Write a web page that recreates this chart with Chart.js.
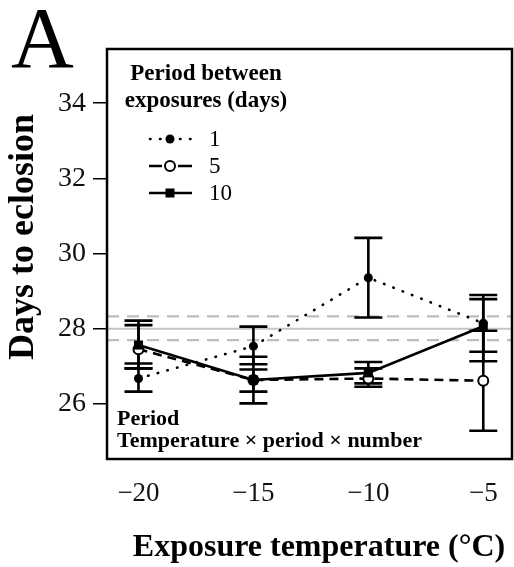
<!DOCTYPE html>
<html>
<head>
    <title>Days to eclosion</title>
    <script src="https://cdn.jsdelivr.net/npm/chart.js"></script>
    <style>
        body { margin: 0; background: #fff; }
    </style>
</head>
<body>
<canvas id="eclosionChart" width="514" height="567"></canvas>
<script>
    // exposure temperatures (x) and tick labels
    var temps = [-20, -15, -10, -5];
    var xTickLabels = ['\u221220', '\u221215', '\u221210', '\u22125'];
    var yTicks = [26, 28, 30, 32, 34];

    // period between exposures = 1 day (dotted, filled circle)
    var period1 = [26.68, 27.54, 29.36, 28.15];
    var period1Lo = [26.33, 27.06, 28.30, 27.39];
    var period1Hi = [27.08, 28.06, 30.42, 28.90];

    // period = 5 days (dashed, open circle)
    var period5 = [27.46, 26.64, 26.68, 26.62];
    var period5Lo = [26.95, 26.02, 26.46, 25.29];
    var period5Hi = [28.10, 27.26, 26.95, 27.95];

    // period = 10 days (solid, filled square)
    var period10 = [27.57, 26.64, 26.83, 28.07];
    var period10Lo = [26.95, 26.33, 26.55, 27.14];
    var period10Hi = [28.22, 26.92, 27.12, 28.79];

    // control mean and its interval (grey lines)
    var controlMean = 28.0;
    var controlLo = 27.7;
    var controlHi = 28.33;

    var xMin = -21.37, xMax = -3.75;
    var yMin = 24.54, yMax = 35.44;

    var serif = '"Liberation Serif", "Times New Roman", serif';

    function pts(ys) {
        return temps.map(function (t, i) { return { x: t, y: ys[i] }; });
    }

    function refLine(v) {
        return [{ x: xMin, y: v }, { x: xMax, y: v }];
    }

    var errorBars = {
        id: 'errorBars',
        beforeDatasetDraw: function (chart, args) {
            var ds = chart.data.datasets[args.index];
            if (!ds.errFirst) return;
            var ctx = chart.ctx, x = chart.scales.x, y = chart.scales.y;
            var sets = [[period1Lo, period1Hi], [period5Lo, period5Hi], [period10Lo, period10Hi]];
            ctx.save();
            ctx.strokeStyle = '#000';
            ctx.lineWidth = 2.6;
            sets.forEach(function (s) {
                temps.forEach(function (t, i) {
                    var px = x.getPixelForValue(t);
                    var lo = y.getPixelForValue(s[0][i]);
                    var hi = y.getPixelForValue(s[1][i]);
                    ctx.beginPath();
                    ctx.moveTo(px, lo);
                    ctx.lineTo(px, hi);
                    ctx.moveTo(px - 14, lo);
                    ctx.lineTo(px + 14, lo);
                    ctx.moveTo(px - 14, hi);
                    ctx.lineTo(px + 14, hi);
                    ctx.stroke();
                });
            });
            ctx.restore();
        }
    };

    var decorations = {
        id: 'decorations',
        afterDraw: function (chart) {
            var ctx = chart.ctx, a = chart.chartArea;
            ctx.save();
            // box
            ctx.strokeStyle = '#000';
            ctx.lineWidth = 2.5;
            ctx.strokeRect(a.left, a.top, a.right - a.left, a.bottom - a.top);

            ctx.fillStyle = '#000';
            // panel letter
            ctx.font = '87px ' + serif;
            ctx.textAlign = 'left';
            ctx.textBaseline = 'alphabetic';
            ctx.fillText('A', 11, 67);

            // axis titles
            ctx.font = 'bold 32px ' + serif;
            ctx.textAlign = 'center';
            ctx.fillText('Exposure temperature (\u00b0C)', 319, 556);

            ctx.save();
            ctx.translate(24, 237);
            ctx.rotate(-Math.PI / 2);
            ctx.font = 'bold 36px ' + serif;
            ctx.textBaseline = 'middle';
            ctx.fillText('Days to eclosion', 0, 0);
            ctx.restore();

            // legend
            ctx.font = 'bold 23px ' + serif;
            ctx.textAlign = 'center';
            ctx.fillText('Period between', 206, 80);
            ctx.fillText('exposures (days)', 206, 107);

            var rows = [139, 166, 193];
            var labels = ['1', '5', '10'];
            ctx.lineWidth = 2.6;
            ctx.lineCap = 'round';
            ctx.setLineDash([0.5, 9.5]);
            ctx.beginPath(); ctx.moveTo(150, rows[0]); ctx.lineTo(192, rows[0]); ctx.stroke();
            ctx.lineCap = 'butt';
            ctx.setLineDash([]);
            ctx.beginPath(); ctx.moveTo(149, rows[1]); ctx.lineTo(162, rows[1]);
            ctx.moveTo(178, rows[1]); ctx.lineTo(192, rows[1]); ctx.stroke();
            ctx.beginPath(); ctx.moveTo(149, rows[2]); ctx.lineTo(192, rows[2]); ctx.stroke();

            ctx.beginPath(); ctx.arc(170, rows[0], 4.5, 0, Math.PI * 2); ctx.fill();
            ctx.fillStyle = '#fff';
            ctx.beginPath(); ctx.arc(170, rows[1], 5, 0, Math.PI * 2); ctx.fill();
            ctx.lineWidth = 2;
            ctx.stroke();
            ctx.fillStyle = '#000';
            ctx.fillRect(165.5, rows[2] - 4.5, 9, 9);

            ctx.font = '23px ' + serif;
            ctx.textAlign = 'left';
            ctx.textBaseline = 'middle';
            labels.forEach(function (l, i) { ctx.fillText(l, 209, rows[i] + 1); });

            // model terms
            ctx.font = 'bold 22px ' + serif;
            ctx.textBaseline = 'alphabetic';
            ctx.fillText('Period', 117, 425);
            ctx.fillText('Temperature \u00d7 period \u00d7 number', 117, 447);
            ctx.restore();
        }
    };

    var ctx = document.getElementById('eclosionChart').getContext('2d');
    var chart = new Chart(ctx, {
        type: 'scatter',
        data: {
            datasets: [{
                label: 'control',
                data: refLine(controlMean),
                showLine: true,
                borderColor: '#c4c4c4',
                borderWidth: 2,
                pointRadius: 0,
                order: 10
            }, {
                label: 'control lo',
                data: refLine(controlLo),
                showLine: true,
                borderColor: '#bdbdbd',
                borderWidth: 2.2,
                borderDash: [12, 8],
                pointRadius: 0,
                order: 10
            }, {
                label: 'control hi',
                data: refLine(controlHi),
                showLine: true,
                borderColor: '#bdbdbd',
                borderWidth: 2.2,
                borderDash: [12, 8],
                pointRadius: 0,
                order: 10
            }, {
                label: '1',
                data: pts(period1),
                showLine: true,
                errFirst: true,
                borderColor: '#000',
                borderWidth: 2.6,
                borderDash: [0.5, 9.5],
                borderCapStyle: 'round',
                pointStyle: 'circle',
                pointRadius: 4.5,
                pointBackgroundColor: '#000',
                pointBorderColor: '#000',
                pointBorderWidth: 0,
                order: 3
            }, {
                label: '5',
                data: pts(period5),
                showLine: true,
                borderColor: '#000',
                borderWidth: 2.6,
                borderDash: [9, 6],
                pointStyle: 'circle',
                pointRadius: 5,
                pointBackgroundColor: '#fff',
                pointBorderColor: '#000',
                pointBorderWidth: 2,
                order: 2
            }, {
                label: '10',
                data: pts(period10),
                showLine: true,
                borderColor: '#000',
                borderWidth: 2.6,
                pointStyle: 'rect',
                pointRadius: 6.4,
                pointBackgroundColor: '#000',
                pointBorderColor: '#000',
                pointBorderWidth: 0,
                order: 1
            }]
        },
        options: {
            responsive: false,
            animation: false,
            devicePixelRatio: 1,
            layout: {
                autoPadding: false,
                padding: { top: 49, right: 2, left: 0, bottom: 0 }
            },
            plugins: {
                legend: { display: false },
                tooltip: { enabled: false }
            },
            scales: {
                x: {
                    type: 'linear',
                    min: xMin,
                    max: xMax,
                    afterFit: function (s) {
                        s.height = 108;
                        s.paddingLeft = 0;
                        s.paddingRight = 0;
                    },
                    afterBuildTicks: function (s) {
                        s.ticks = temps.map(function (v) { return { value: v }; });
                    },
                    grid: { display: false, drawTicks: false },
                    border: { display: false },
                    ticks: {
                        padding: 19,
                        color: '#111',
                        font: { family: serif, size: 27 },
                        callback: function (v) { return xTickLabels[temps.indexOf(v)]; }
                    }
                },
                y: {
                    min: yMin,
                    max: yMax,
                    afterFit: function (s) { s.width = 107; },
                    afterBuildTicks: function (s) {
                        s.ticks = yTicks.map(function (v) { return { value: v }; });
                    },
                    grid: {
                        drawOnChartArea: false,
                        drawTicks: true,
                        tickLength: 14,
                        color: '#000',
                        lineWidth: 1.5
                    },
                    border: { display: false },
                    ticks: {
                        padding: 7,
                        color: '#111',
                        font: { family: serif, size: 28 }
                    }
                }
            }
        },
        plugins: [errorBars, decorations]
    });
</script>
</body>
</html>
